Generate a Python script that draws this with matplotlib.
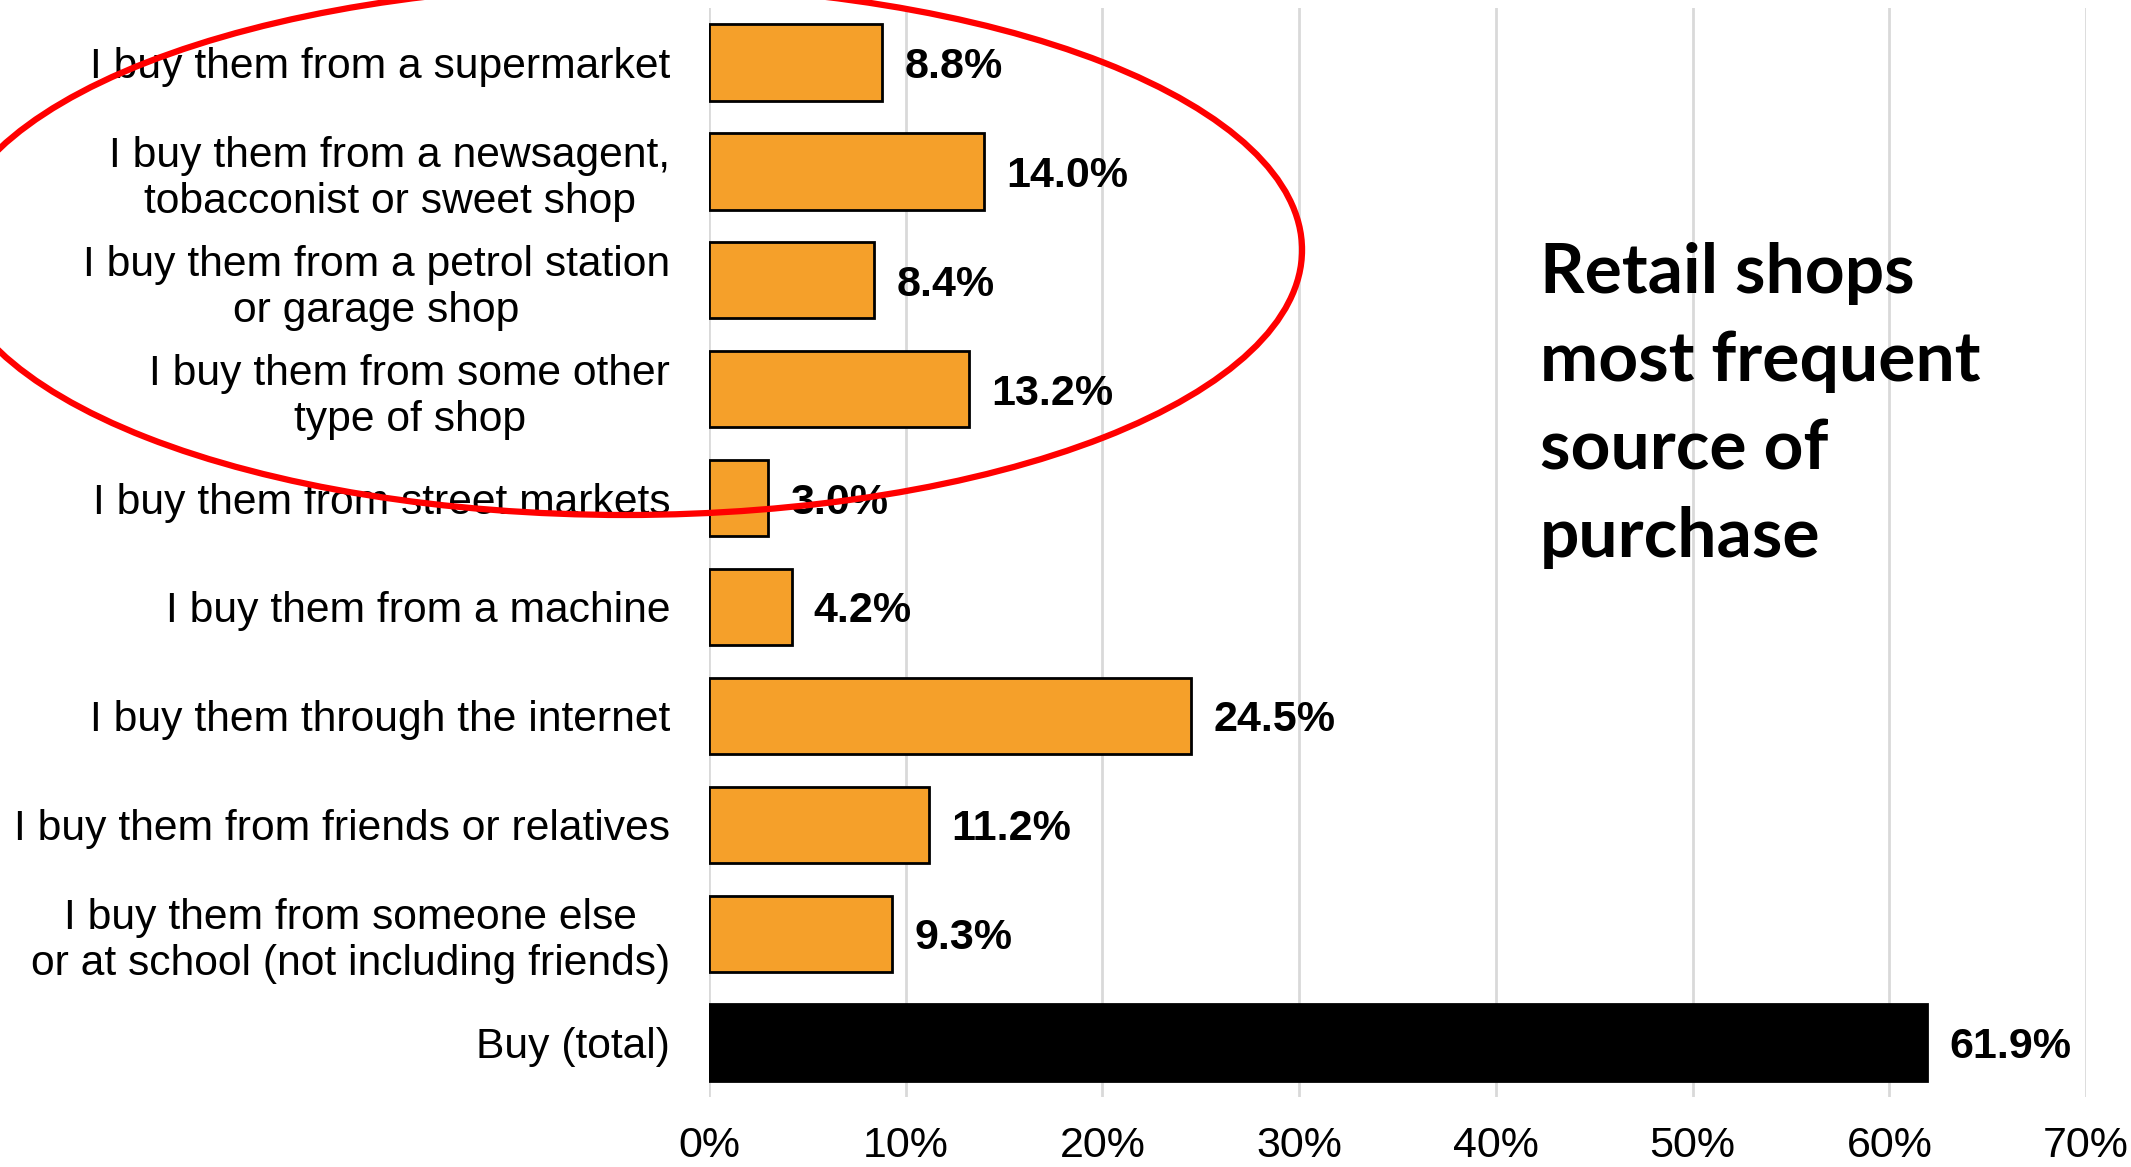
import matplotlib.pyplot as plt
from matplotlib.patches import Ellipse

# fuentes de compra
categorias = [
    "I buy them from a supermarket",
    "I buy them from a newsagent,\ntobacconist or sweet shop",
    "I buy them from a petrol station\nor garage shop",
    "I buy them from some other\ntype of shop",
    "I buy them from street markets",
    "I buy them from a machine",
    "I buy them through the internet",
    "I buy them from friends or relatives",
    "I buy them from someone else\nor at school (not including friends)",
    "Buy (total)",
]
porcentajes = [8.8, 14.0, 8.4, 13.2, 3.0, 4.2, 24.5, 11.2, 9.3, 61.9]
marcas_x = [0, 10, 20, 30, 40, 50, 60, 70]

naranja = "#F5A02A"
colores = [naranja] * (len(porcentajes) - 1) + ["black"]

plt.rcParams['font.family'] = ['Liberation Sans', 'DejaVu Sans']

fig = plt.figure(figsize=(21.31, 11.67), dpi=100)
ax = fig.add_axes([0.3327, 0.06, 0.6462, 0.9331])

posiciones = list(range(len(categorias)))
ax.barh(posiciones, porcentajes, height=0.7, color=colores,
        edgecolor="black", linewidth=2, zorder=3)

for y, v in zip(posiciones, porcentajes):
    ax.annotate(f"{v:.1f}%", xy=(v, y), xytext=(16, 0),
                textcoords="offset points", va="center_baseline", ha="left",
                fontsize=31, fontweight="bold", color="black")

ax.set_yticks(posiciones)
ax.set_yticklabels(categorias, fontsize=30.7, linespacing=1.2,
                   multialignment="center")
ax.set_xticks(marcas_x)
ax.set_xticklabels([f"{m}%" for m in marcas_x], fontsize=31)
ax.set_xlim(0, 70)
ax.set_ylim(len(categorias) - 0.5, -0.5)

ax.tick_params(axis="y", length=0, pad=28)
ax.tick_params(axis="x", length=0, pad=21)
ax.grid(axis="x", color="#D9D9D9", linewidth=2, zorder=0)
for lado in ax.spines.values():
    lado.set_visible(False)

fig.text(0.7227, 0.7926, "Retail shops\nmost frequent\nsource of\npurchase",
         family=["Lato", "DejaVu Sans"], fontweight="bold", fontsize=50,
         ha="left", va="top", linespacing=1.49)

# ovalo rojo alrededor de las tiendas
ovalo = Ellipse((0.2933, 0.7858), 0.6354, 0.4542, transform=fig.transFigure,
                fill=False, edgecolor="#FF0000", linewidth=4.5, zorder=10)
fig.add_artist(ovalo)

fig.savefig("out.png", dpi=100)
